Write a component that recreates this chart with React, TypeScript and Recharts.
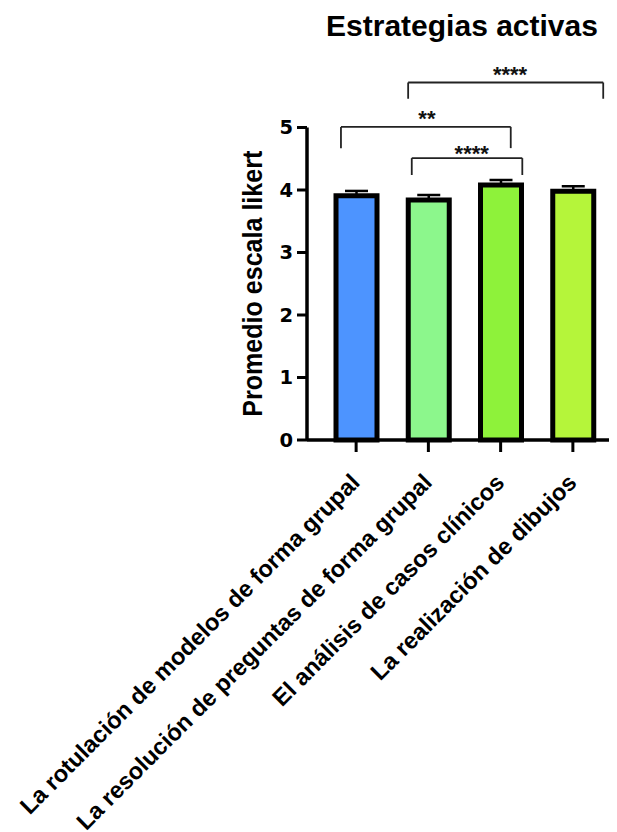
import React from 'react';
import { BarChart, Bar, XAxis, YAxis, ErrorBar, Cell, ReferenceLine, ReferenceDot, Label } from 'recharts';

const FONT = '"Liberation Sans", Arial, Helvetica, sans-serif';
const TICK_FONT = '"DejaVu Sans", "Liberation Sans", Arial, sans-serif';

const categories = [
  'La rotulación de modelos de forma grupal',
  'La resolución de preguntas de forma grupal',
  'El análisis de casos clínicos',
  'La realización de dibujos',
];
const means = [3.91, 3.84, 4.08, 3.98];
const sems = [0.075, 0.08, 0.08, 0.08];
const colors = ['#4d94ff', '#8cf78c', '#8ef23a', '#b5f53a'];
const yTicks = [0, 1, 2, 3, 4, 5];
const xTicks = [0, 1, 2, 3];

// significance brackets (x in category-index units, y in likert units)
const bracketLabels = ['****', '**', '****'];
const bracketX1 = [0.72, -0.21, 0.77];
const bracketX2 = [3.42, 2.14, 2.3];
const bracketY = [5.72, 5.01, 4.51];
const bracketDrop = [5.46, 4.67, 4.24];
const labelX = [2.13, 0.98, 1.6];
const labelY = [5.92, 5.22, 4.65];

const data = categories.map((name, i) => ({ idx: i, name, mean: means[i], err: [0, sems[i]] }));

const XTick = (props: any) => {
  const { x, y, payload } = props;
  return (
    <text
      transform={`translate(${x + 5}, ${y + 30}) rotate(-45)`}
      textAnchor="end"
      fontFamily={FONT}
      fontSize={23.5}
      fontWeight={700}
      fill="#000"
    >
      {categories[payload.value]}
    </text>
  );
};

const StarShape = (label: string) => (props: any) => {
  const { cx, cy } = props;
  return (
    <text x={cx} y={cy + 12} textAnchor="middle" fontFamily={FONT} fontSize={22} fontWeight={700} fill="#111">
      {label}
    </text>
  );
};

export default function App() {
  return (
    <div style={{ position: 'absolute', left: 0, top: 0, width: 617, height: 832, background: '#fff' }}>
      <div
        style={{
          position: 'absolute',
          left: 311,
          top: 10.5,
          width: 302,
          textAlign: 'center',
          fontFamily: FONT,
          fontWeight: 700,
          fontSize: 30,
          lineHeight: 1,
          color: '#000',
          whiteSpace: 'nowrap',
        }}
      >
        Estrategias activas
      </div>
      <BarChart
        width={617}
        height={832}
        data={data}
        margin={{ top: 127.5, right: 8, bottom: 0, left: 227 }}
        style={{ position: 'absolute', left: 0, top: 0 }}
      >
        <XAxis
          dataKey="idx"
          type="number"
          domain={[-0.68, 3.5]}
          allowDataOverflow
          ticks={xTicks}
          height={392}
          axisLine={{ stroke: '#000', strokeWidth: 3.5 }}
          tickLine={{ stroke: '#000', strokeWidth: 3 }}
          tickSize={12}
          interval={0}
          tick={<XTick />}
        />
        <YAxis
          domain={[0, 5]}
          ticks={yTicks}
          width={80}
          axisLine={{ stroke: '#000', strokeWidth: 3.5 }}
          tickLine={{ stroke: '#000', strokeWidth: 3 }}
          tickSize={10}
          tickMargin={4}
          tick={{ fill: '#000', fontSize: 19.5, fontWeight: 700, fontFamily: TICK_FONT }}
        >
          <Label
            content={(p: any) => {
              const vb = p.viewBox || {};
              const cx = 262;
              const cy = (vb.y ?? 127.5) + (vb.height ?? 312.5) / 2;
              return (
                <text
                  x={0}
                  y={0}
                  transform={`translate(${cx}, ${cy}) rotate(-90) scale(0.88, 1)`}
                  textAnchor="middle"
                  fontFamily={FONT}
                  fontSize={28.5}
                  fontWeight={700}
                  fill="#000"
                >
                  Promedio escala likert
                </text>
              );
            }}
          />
        </YAxis>
        <Bar dataKey="mean" barSize={41} stroke="#000" strokeWidth={5} isAnimationActive={false}>
          {data.map((d, i) => (
            <Cell key={d.name} fill={colors[i]} />
          ))}
          <ErrorBar dataKey="err" direction="y" width={11.5} strokeWidth={2.5} stroke="#000" />
        </Bar>
        {bracketLabels.map((lab, i) => (
          <ReferenceLine
            key={`h${i}`}
            ifOverflow="visible"
            stroke="#222"
            strokeWidth={1.8}
            segment={[
              { x: bracketX1[i], y: bracketY[i] },
              { x: bracketX2[i], y: bracketY[i] },
            ]}
          />
        ))}
        {bracketLabels.map((lab, i) => (
          <ReferenceLine
            key={`l${i}`}
            ifOverflow="visible"
            stroke="#222"
            strokeWidth={1.8}
            segment={[
              { x: bracketX1[i], y: bracketY[i] },
              { x: bracketX1[i], y: bracketDrop[i] },
            ]}
          />
        ))}
        {bracketLabels.map((lab, i) => (
          <ReferenceLine
            key={`r${i}`}
            ifOverflow="visible"
            stroke="#222"
            strokeWidth={1.8}
            segment={[
              { x: bracketX2[i], y: bracketY[i] },
              { x: bracketX2[i], y: bracketDrop[i] },
            ]}
          />
        ))}
        {bracketLabels.map((lab, i) => (
          <ReferenceDot
            key={`s${i}`}
            x={labelX[i]}
            y={labelY[i]}
            r={0}
            ifOverflow="visible"
            shape={StarShape(lab)}
          />
        ))}
      </BarChart>
    </div>
  );
}
